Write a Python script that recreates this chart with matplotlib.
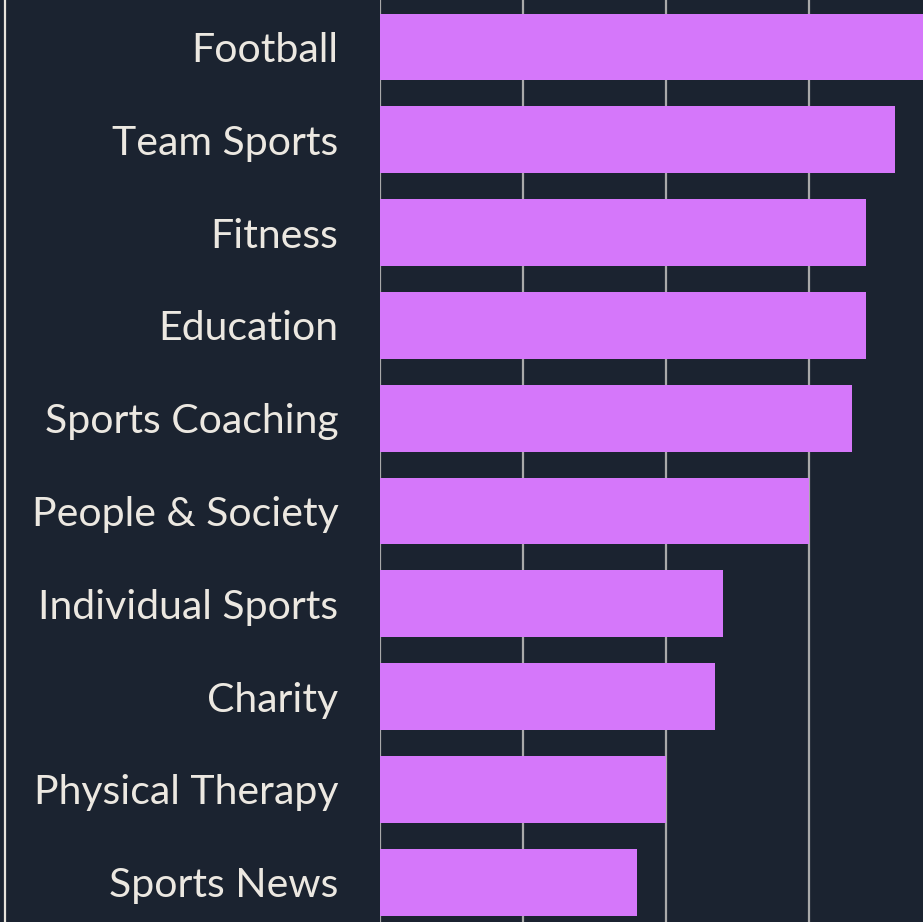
import matplotlib.pyplot as plt
from matplotlib.lines import Line2D

categories = ['Football', 'Team Sports', 'Fitness', 'Education', 'Sports Coaching',
              'People & Society', 'Individual Sports', 'Charity', 'Physical Therapy',
              'Sports News']
values = [40, 36, 34, 34, 33, 30, 24, 23.4, 20, 18]
grid_ticks = [0, 10, 20, 30]

bg = '#1b2330'
bar_color = '#d577fa'
text_color = '#ece8e1'

fig = plt.figure(figsize=(9.23, 9.22), dpi=100, facecolor=bg)
ax = fig.add_axes([380 / 923, 0, 543 / 923, 1])
ax.set_facecolor(bg)

y = list(range(len(categories)))
ax.barh(y, values, height=0.72, color=bar_color, zorder=3)

ax.set_xticks(grid_ticks)
ax.set_xticklabels([])
ax.tick_params(axis='x', length=0)
ax.grid(axis='x', color='#a9a9a9', linewidth=1.6, zorder=1)
# set limits after ticks so they are not widened again
ax.set_xlim(0, 37.97)
ax.set_ylim(9.43, -0.506)

ax.set_yticks(y)
ax.set_yticklabels(categories, fontsize=29.5, color=text_color, family=['Lato', 'DejaVu Sans'])
ax.tick_params(axis='y', length=0, pad=30)

for s in ax.spines.values():
    s.set_visible(False)

# light border line at the far left of the figure
fig.add_artist(Line2D([5 / 923, 5 / 923], [0, 1], transform=fig.transFigure,
                      color='#e6e2da', linewidth=1.6))

fig.savefig('out.png', dpi=100, facecolor=bg)
